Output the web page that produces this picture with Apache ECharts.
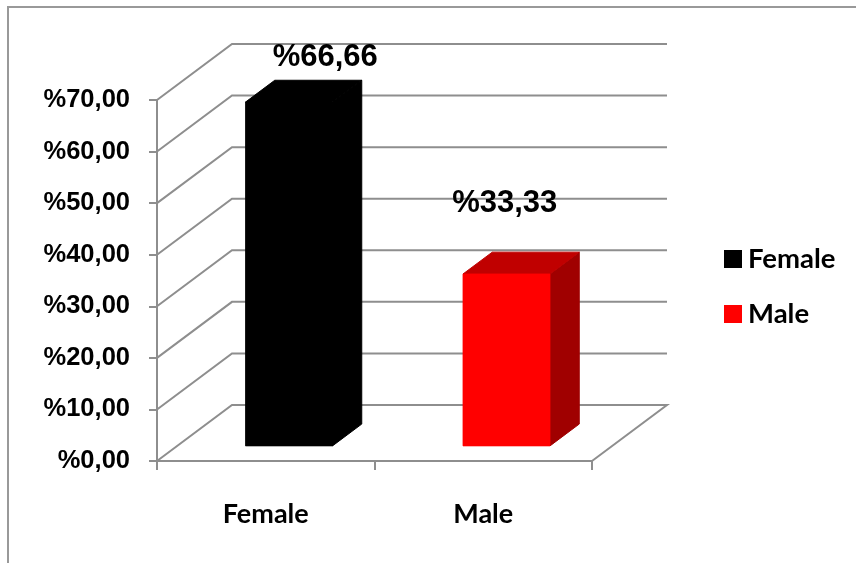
<!DOCTYPE html>
<html>
<head>
<meta charset="utf-8">
<script src="https://cdn.jsdelivr.net/npm/echarts@6/dist/echarts.min.js"></script>
<style>
  html, body { margin: 0; padding: 0; background: #fff; }
  #chart { width: 856px; height: 563px; }
</style>
</head>
<body>
<div id="chart"></div>
<script>
// Gender distribution (percent)
const categories = ['Female', 'Male'];
const values = [66.66, 33.33];
const yTicks = [0, 10, 20, 30, 40, 50, 60, 70];

// Face colours per bar: front, top, side
const barColors = [
  { front: '#000000', top: '#000000', side: '#000000' },
  { front: '#ff0000', top: '#c00000', side: '#a00000' }
];

// Pseudo-3D projection: pixel offset of the back wall relative to the front plane
const DEPTH = [75, -56];
const BAR_FRONT = 0.27;   // depth fraction where the bar's front face sits
const BAR_BACK = 0.66;    // depth fraction of the bar's back face
const BAR_RATIO = 0.4;    // bar width relative to category band
const BAR_NUDGE = 3;
// label placement relative to the centre of the bar's top face (back edge)
const LABEL_NUDGE = [[7, -23], [-31, -49]];

const GRID_COLOR = '#8e8e8e';
const pct = v => '%' + v.toFixed(2).replace('.', ',');

const chart = echarts.init(document.getElementById('chart'), null, { renderer: 'canvas' });

function renderWalls(params, api) {
  const cs = params.coordSys;
  const x0 = cs.x, x1 = cs.x + cs.width;
  const t = api.value(1);
  const y = api.coord([0, t])[1];
  const pts = [[x0, y], [x0 + DEPTH[0], y + DEPTH[1]], [x1 + DEPTH[0], y + DEPTH[1]]];
  if (t === 0) pts.push([x1, y]);
  return {
    type: 'polyline',
    shape: { points: pts },
    style: { stroke: GRID_COLOR, lineWidth: 2, fill: null }
  };
}

function renderBar(params, api) {
  const idx = api.value(0);
  const v = api.value(1);
  const band = api.size([1, 0])[0];
  const w = band * BAR_RATIO;
  const base = api.coord([idx, 0]);
  const top = api.coord([idx, v]);
  const h = base[1] - top[1];
  const fx = DEPTH[0] * BAR_FRONT, fy = DEPTH[1] * BAR_FRONT;
  const dx = DEPTH[0] * (BAR_BACK - BAR_FRONT), dy = DEPTH[1] * (BAR_BACK - BAR_FRONT);
  const xl = base[0] - w / 2 + fx + BAR_NUDGE;
  const xr = xl + w;
  const yb = base[1] + fy;
  const yt = yb - h;
  const col = barColors[idx];
  const nudge = LABEL_NUDGE[idx];
  const lx = (xl + xr) / 2 + dx + nudge[0];
  const ly = yt + dy + nudge[1];
  return {
    type: 'group',
    children: [
      { type: 'polygon', shape: { points: [[xr, yb], [xr, yt], [xr + dx, yt + dy], [xr + dx, yb + dy]] },
        style: { fill: col.side, stroke: col.side, lineWidth: 1 } },
      { type: 'polygon', shape: { points: [[xl, yt], [xr, yt], [xr + dx, yt + dy], [xl + dx, yt + dy]] },
        style: { fill: col.top, stroke: col.top, lineWidth: 1 } },
      { type: 'rect', shape: { x: xl, y: yt, width: w, height: h },
        style: { fill: col.front, stroke: col.front, lineWidth: 0.8 } },
      { type: 'text', x: lx, y: ly,
        style: { text: pct(v), fill: '#000', font: 'bold 31px "Liberation Sans", Arial, sans-serif',
                 align: 'center', verticalAlign: 'middle' } }
    ]
  };
}

const barSeries = categories.map((name, i) => ({
  name: name,
  type: 'custom',
  renderItem: renderBar,
  itemStyle: { color: barColors[i].front },
  data: [[i, values[i]]],
  z: 3,
  clip: false
}));

chart.setOption({
  animation: false,
  backgroundColor: '#ffffff',
  graphic: [{
    type: 'rect',
    shape: { x: 8, y: 7, width: 900, height: 600 },
    style: { fill: null, stroke: '#999999', lineWidth: 2 },
    z: 0
  }],
  grid: { left: 157, top: 100, width: 435, height: 361, outerBoundsMode: 'none' },
  legend: {
    data: categories,
    orient: 'vertical',
    left: 719,
    top: 239,
    itemWidth: 18,
    itemHeight: 18,
    itemGap: 25,
    icon: 'rect',
    textStyle: { fontFamily: 'Lato', fontWeight: 'bold', fontSize: 27.5, color: '#000', lineHeight: 30,
                 padding: [0, 0, 0, 1] }
  },
  xAxis: {
    type: 'category',
    data: categories,
    axisLine: { lineStyle: { color: GRID_COLOR, width: 2 } },
    axisTick: { show: true, length: 9, lineStyle: { color: GRID_COLOR, width: 2 } },
    axisLabel: { margin: 40, fontFamily: 'Lato', fontWeight: 'bold', fontSize: 27, color: '#000' },
    splitLine: { show: false }
  },
  yAxis: {
    type: 'value',
    min: 0,
    max: 70,
    interval: 10,
    axisLine: { show: true, lineStyle: { color: GRID_COLOR, width: 2 } },
    axisTick: { show: true, length: 8, lineStyle: { color: GRID_COLOR, width: 2 } },
    axisLabel: { margin: 27, formatter: v => pct(v), fontFamily: 'Liberation Sans', fontWeight: 'bold', fontSize: 25.5, color: '#000' },
    splitLine: { show: false }
  },
  series: [{
    type: 'custom',
    name: 'walls',
    renderItem: renderWalls,
    data: yTicks.map(t => [0, t]),
    z: 1,
    clip: false,
    silent: true
  }].concat(barSeries)
});
</script>
</body>
</html>
